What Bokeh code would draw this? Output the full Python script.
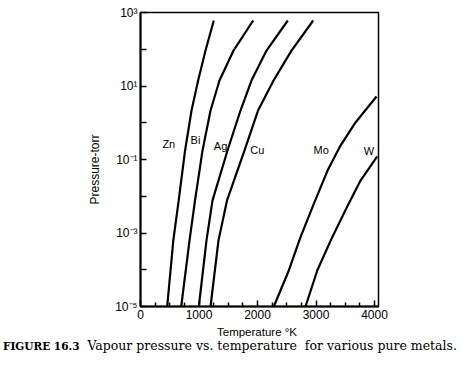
from bokeh.plotting import figure
from bokeh.models import Range1d, FixedTicker, Label, Div
from bokeh.layouts import column
from bokeh.embed import file_html
from bokeh.resources import INLINE

# Temperature (K) and vapour pressure (torr)
zn_T = [456, 561, 653, 762, 872, 985, 1111, 1253]
zn_P = [1e-5, 6.3e-4, 7.7e-3, 0.176, 2.15, 14.1, 92, 606]
bi_T = [696, 838, 932, 1060, 1197, 1350, 1590, 1926]
bi_P = [1e-5, 6.3e-4, 7.7e-3, 0.176, 2.15, 14.1, 92, 606]
ag_T = [997, 1128, 1231, 1487, 1709, 1897, 2154, 2518]
ag_P = [1e-5, 6.3e-4, 7.7e-3, 0.176, 2.15, 14.1, 92, 606]
cu_T = [1197, 1333, 1479, 1778, 2009, 2274, 2581, 2952]
cu_P = [1e-5, 6.3e-4, 7.7e-3, 0.176, 2.15, 14.1, 92, 606]
mo_T = [2279, 2535, 2735, 2962, 3197, 3419, 3675, 4034]
mo_P = [1e-5, 9.55e-5, 7.7e-4, 6.2e-3, 0.050, 0.240, 1.02, 5.18]
w_T = [2821, 3021, 3277, 3556, 3761, 4046]
w_P = [1e-5, 9.55e-5, 7.7e-4, 6.2e-3, 0.0268, 0.121]

metals = ["Zn", "Bi", "Ag", "Cu", "Mo", "W"]
series = [(zn_T, zn_P), (bi_T, bi_P), (ag_T, ag_P), (cu_T, cu_P), (mo_T, mo_P), (w_T, w_P)]

x_ticks = [0, 1000, 2000, 3000, 4000]
x_minor = [250, 500, 750, 1250, 1500, 1750, 2250, 2500, 2750, 3250, 3500, 3750]
y_ticks = [1e-5, 1e-3, 1e-1, 1e1, 1e3]
y_tick_labels = ["10\u207b\u2075", "10\u207b\u00b3", "10\u207b\u00b9", "10\u00b9", "10\u00b3"]
y_minor = [1e-4, 1e-2, 1, 1e2]

x_title = "Temperature \u00b0K"
y_title = "Pressure-torr"
caption_num = "FIGURE 16.3"
caption_text = "Vapour pressure vs. temperature&nbsp; for various pure metals."

# label anchor positions (data coords)
metal_label_pos = {"Zn": (484, 0.27), "Bi": (940, 0.33), "Ag": (1368, 0.24),
                   "Cu": (1995, 0.176), "Mo": (3089, 0.176), "W": (3903, 0.17)}

p = figure(width=472, height=326, x_range=Range1d(0, 4068), y_range=Range1d(1e-5, 1e3),
           y_axis_type="log", output_backend="svg", toolbar_location=None,
           min_border_left=140, min_border_right=94, min_border_top=12, min_border_bottom=20)

p.grid.visible = False
p.outline_line_color = "black"
p.outline_line_width = 1.5
p.background_fill_color = "white"
p.border_fill_color = "white"

for T, P in series:
    p.line(T, P, line_color="black", line_width=2.2)

xa = p.xaxis[0]
xa.ticker = FixedTicker(ticks=x_ticks, minor_ticks=x_minor)
xa.axis_line_width = 2
xa.major_tick_in = 6
xa.major_tick_out = 0
xa.minor_tick_in = 4
xa.minor_tick_out = 0
xa.major_tick_line_width = 1.5
xa.minor_tick_line_width = 1.5
xa.major_label_text_font = "Liberation Sans"
xa.major_label_text_font_size = "12px"
xa.major_label_text_color = "black"
xa.major_label_standoff = 3

ya = p.yaxis[0]
ya.ticker = FixedTicker(ticks=y_ticks, minor_ticks=y_minor)
ya.major_label_overrides = {t: s for t, s in zip(y_ticks, y_tick_labels)}
ya.axis_line_width = 2
ya.major_tick_in = 6
ya.major_tick_out = 0
ya.minor_tick_in = 6
ya.minor_tick_out = 0
ya.major_tick_line_width = 1.5
ya.minor_tick_line_width = 1.5
ya.major_label_text_font = "Liberation Sans"
ya.major_label_text_font_size = "12px"
ya.major_label_text_color = "black"
ya.major_label_standoff = 3
ya.axis_label = y_title + "\u00a0" * 6
ya.axis_label_text_font = "Liberation Sans"
ya.axis_label_text_font_size = "12px"
ya.axis_label_text_font_style = "normal"
ya.axis_label_text_color = "black"
ya.axis_label_standoff = 10

for m in metals:
    x, y = metal_label_pos[m]
    p.add_layout(Label(x=x, y=y, text=m, text_align="center", text_baseline="middle",
                       text_font="Liberation Sans", text_font_size="11px", text_color="black"))

html = (
    '<div style="position:relative;width:472px;height:52px;color:black;margin:0;padding:0;">'
    '<div style="position:absolute;left:157px;top:0px;width:200px;text-align:center;'
    'font-family:\'Liberation Sans\';font-size:11.5px;line-height:12px;white-space:nowrap;">'
    + x_title + '</div>'
    '<div style="position:absolute;left:3px;top:13px;white-space:nowrap;'
    'font-family:\'DejaVu Serif\';font-size:12.5px;line-height:13px;">'
    '<b style="font-size:10.5px;">' + caption_num + '</b>'
    '<span style="display:inline-block;width:8px;"></span>' + caption_text + '</div>'
    '</div>'
)
cap = Div(text=html, width=472, height=52, margin=0)

open("out.html", "w").write(file_html(column(p, cap, spacing=0), INLINE))
